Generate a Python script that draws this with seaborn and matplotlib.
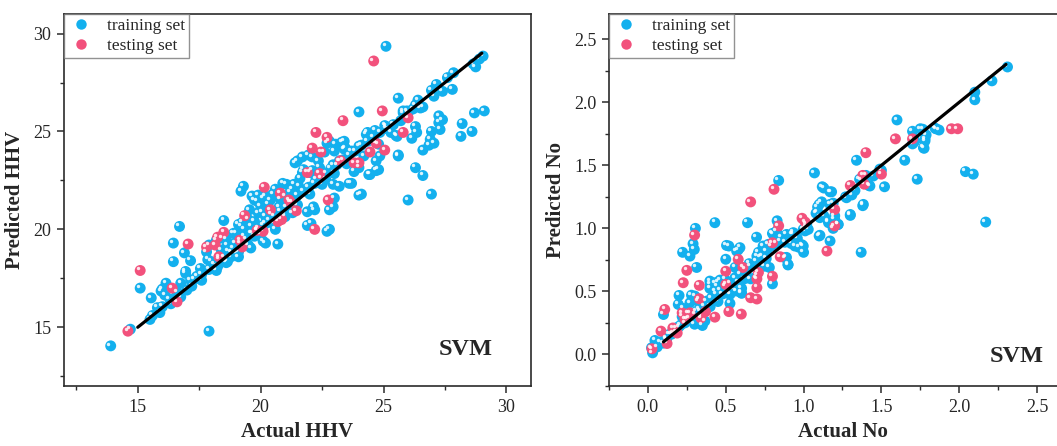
import matplotlib
matplotlib.use("Agg")
import matplotlib.pyplot as plt
import matplotlib.transforms as mtransforms
from matplotlib.lines import Line2D
from matplotlib.ticker import MultipleLocator
import seaborn as sns
import pandas as pd

# ---------------- data ----------------
hhv_train = [
    (13.9,14.05),(14.7,14.9),(17.9,14.8),(15.1,17.0),(15.55,16.5),(15.6,15.6),(15.8,16.0),(15.5,15.4),
    (16.0,16.05),(16.1,16.65),(16.0,16.95),(16.15,17.25),(15.95,16.85),(16.7,20.15),(16.45,19.3),
    (16.45,18.35),(16.9,18.8),(17.15,18.4),(16.95,17.85),(16.75,17.25),(16.75,16.55),(17.15,17.4),
    (17.4,17.6),(17.0,16.9),(16.35,16.2),(16.95,17.75),(17.55,18.0),(17.85,18.45),(17.8,18.85),
    (17.9,19.2),(18.2,19.45),(18.45,19.55),(18.5,20.45),(18.65,19.2),(18.8,18.85),(19.1,20.25),
    (19.3,22.2),(19.2,21.95),(19.9,21.75),(19.75,21.5),(20.1,21.6),(20.3,21.3),(19.35,20.0),
    (19.65,19.8),(19.9,20.05),(20.1,19.4),(19.1,18.6),(18.65,18.35),(18.25,18.1),(20.2,20.65),
    (19.5,20.5),(19.9,20.85),(21.5,23.5),(21.7,23.7),(21.95,23.8),(22.1,23.7),(21.75,23.05),
    (22.1,23.0),(22.4,23.15),(22.95,23.3),(23.2,23.5),(23.4,24.5),(23.05,24.35),(22.8,24.5),
    (23.45,24.15),(23.7,24.0),(24.0,24.25),(24.3,24.85),(24.65,25.05),(25.05,25.3),(25.25,25.1),
    (25.55,24.75),(25.6,23.8),(25.95,26.05),(25.8,25.95),(24.1,21.8),(23.7,22.35),(23.2,22.2),
    (22.95,22.3),(22.65,22.55),(22.25,22.55),(24.7,23.5),(24.45,22.8),(24.8,23.05),(24.85,23.75),
    (23.8,22.95),(24.0,23.15),(22.95,21.15),(22.15,21.15),(22.05,20.3),(22.8,20.0),(20.7,19.25),
    (20.2,19.3),(21.0,21.7),(20.6,22.05),(21.05,22.3),(21.3,22.05),(21.55,22.2),(19.65,21.7),
    (19.85,21.45),(20.2,21.7),(20.4,21.5),(20.05,20.9),(20.45,20.75),(20.75,21.15),(21.3,20.85),
    (21.0,20.65),(19.2,20.15),(19.0,19.8),(19.75,20.4),(19.6,20.15),(20.6,20.0),(20.2,20.3),
    (18.95,19.3),(19.1,18.85),(18.8,18.6),(19.75,19.65),(19.35,19.65),(19.6,19.05),(21.4,23.4),
    (21.7,22.9),(20.9,22.35),(21.35,22.3),(21.9,20.9),(21.9,20.2),(22.2,21.0),(22.7,19.9),
    (22.8,21.0),(23.0,21.6),(22.7,24.4),(23.3,24.45),(23.4,24.1),(24.0,26.0),(24.0,21.75),
    (23.6,22.35),(24.35,24.95),(24.4,22.8),(24.7,23.0),(25.1,29.35),(29.05,28.85),(28.9,28.7),
    (28.65,28.45),(28.75,28.3),(27.85,28.0),(27.6,27.75),(27.15,27.4),(26.95,27.1),(27.4,27.05),
    (27.8,27.15),(27.05,26.8),(25.6,26.7),(26.4,26.6),(26.6,26.25),(26.2,26.15),(25.8,26.05),
    (27.25,25.8),(27.4,25.6),(27.25,25.45),(27.3,25.1),(26.3,25.25),(26.35,24.95),(26.15,24.65),
    (25.5,24.8),(25.1,25.25),(25.6,23.75),(26.95,25.0),(26.9,24.6),(27.05,24.4),(26.85,24.3),
    (26.6,24.05),(28.2,25.4),(28.15,24.75),(28.6,25.0),(28.7,25.95),(29.1,26.05),(26.3,23.15),
    (26.6,22.75),(26.95,21.8),(26.0,21.5),(17.3,17.45),(17.6,17.7),(17.9,17.95),(18.1,18.2),
    (18.3,18.45),(18.5,18.6),(18.7,18.9),(18.9,19.05),(19.15,19.3),(19.4,19.5),(19.6,19.8),
    (19.85,19.95),(20.1,20.2),(20.35,20.45),(20.55,20.65),(20.8,20.95),(21.05,21.15),(21.3,21.4),
    (21.5,21.75),(21.75,21.95),(21.95,22.15),(22.2,22.35),(22.45,22.6),(22.65,22.85),(22.85,23.1),
    (23.1,23.3),(23.35,23.55),(23.6,23.8),(23.85,24.0),(24.1,24.3),(24.35,24.5),(24.6,24.7),
    (24.85,24.95),(25.1,25.15),(25.4,25.35),(25.7,25.55),(26.0,25.95),(26.3,26.35),(26.5,26.2),
    (18.0,18.35),(18.4,18.95),(18.6,19.5),(18.9,19.8),(19.25,20.35),(19.55,21.0),(20.0,21.2),
    (20.5,21.8),(20.8,21.55),(21.2,21.9),(21.6,22.6),(22.0,22.9),(22.35,23.5),(22.6,23.95),
    (23.0,24.0),(16.6,16.8),(16.3,16.45),(15.9,15.75),(17.2,17.1),(17.6,17.4),(18.2,17.9),
    (18.6,18.3),(19.0,18.8),(19.5,19.2),(20.0,19.75),(20.5,20.3),(21.0,20.85),(21.5,21.25),
    (22.0,21.8),(22.5,22.3),(23.0,22.85),(23.5,23.35),(24.2,23.75),(24.8,24.35),(25.3,24.95),
]
hhv_test = [
    (24.6,28.6),(23.35,25.55),(22.25,24.95),(22.7,24.7),(22.1,24.15),(22.45,23.95),(24.95,26.05),
    (24.7,24.4),(24.45,23.95),(25.05,24.05),(26.0,25.7),(25.8,24.95),(23.25,23.5),(23.8,23.4),
    (24.0,23.4),(21.9,22.9),(22.4,22.85),(20.15,22.15),(20.8,21.85),(21.15,21.5),(21.45,20.95),
    (22.75,21.5),(20.4,21.0),(20.85,20.5),(19.35,20.7),(19.15,19.45),(19.25,19.1),(19.85,19.95),
    (20.1,19.9),(22.2,20.0),(17.8,19.1),(18.15,19.2),(18.25,19.6),(18.5,19.85),(17.05,19.25),
    (18.3,18.6),(15.1,17.9),(16.4,17.0),(16.6,16.3),(14.6,14.8),(21.2,21.4),(20.7,20.4),
]
no_train = [
    (0.03,0.013),(0.023,0.053),(0.045,0.111),(0.1,0.09),(0.116,0.132),(0.137,0.159),(0.163,0.172),
    (0.184,0.212),(0.21,0.233),(0.238,0.251),(0.265,0.291),(0.302,0.317),(0.334,0.344),(0.36,0.384),
    (0.377,0.423),(0.409,0.45),(0.437,0.476),(0.463,0.508),(0.495,0.542),(0.527,0.569),(0.559,0.608),
    (0.591,0.635),(0.623,0.675),(0.655,0.701),(0.698,0.741),(0.737,0.78),(0.763,0.82),(0.795,0.86),
    (0.827,0.886),(0.859,0.926),(0.891,0.952),(0.934,0.966),(0.2,0.468),(0.1,0.317),(0.223,0.81),
    (0.27,0.78),(0.29,0.878),(0.305,1.0),(0.298,0.833),(0.313,0.69),(0.195,0.397),(0.227,0.365),
    (0.27,0.41),(0.302,0.463),(0.323,0.423),(0.345,0.304),(0.366,0.265),(0.35,0.23),(0.398,0.582),
    (0.43,0.569),(0.445,0.542),(0.398,0.524),(0.43,0.503),(0.463,0.59),(0.495,0.595),(0.505,0.865),
    (0.5,0.755),(0.43,1.045),(0.527,0.405),(0.602,0.485),(0.527,0.476),(0.57,0.503),(0.602,0.524),
    (0.698,0.608),(0.677,0.648),(0.64,1.045),(0.591,0.847),(0.57,0.82),(0.8,0.56),(0.806,0.952),
    (0.827,0.979),(0.74,0.86),(0.773,0.873),(0.698,0.93),(0.65,0.72),(0.71,0.81),(0.72,0.77),
    (0.8,0.96),(0.84,1.38),(0.83,1.06),(0.78,0.69),(0.9,0.71),(0.89,0.77),(0.88,0.89),(0.93,0.95),
    (0.99,0.87),(1.0,0.81),(0.97,0.85),(1.01,0.98),(1.02,1.01),(1.07,1.44),(1.09,1.13),(1.12,1.33),
    (1.1,1.19),(1.1,0.94),(1.17,0.9),(1.18,1.29),(1.16,1.06),(1.19,1.2),(1.2,1.1),(1.19,1.0),
    (1.22,1.03),(1.27,1.25),(1.3,1.11),(1.32,1.3),(1.34,1.54),(1.37,0.81),(1.38,1.18),(1.37,1.38),
    (1.4,1.42),(1.42,1.34),(1.5,1.46),(1.52,1.33),(1.6,1.86),(1.65,1.54),(1.7,1.77),(1.7,1.67),
    (1.73,1.39),(1.75,1.79),(1.77,1.64),(1.78,1.71),(1.85,1.79),(1.87,1.78),(2.04,1.45),(2.09,1.43),
    (2.1,2.08),(2.1,2.02),(2.17,1.05),(2.21,2.17),(2.31,2.28),(1.13,1.32),(1.17,1.29),(1.116,1.21),
    (1.09,1.17),(1.08,1.12),(1.105,1.085),(1.13,1.1),(1.17,1.19),(1.276,1.243),(1.31,1.265),
    (1.33,1.3),(1.36,1.39),(1.426,1.336),(1.448,1.415),(1.49,1.47),(1.384,1.19),(1.3,1.103),
    (1.2,1.07),(1.223,1.032),(1.16,1.045),(1.105,0.945),(0.998,0.86),(0.944,0.86),(0.934,0.952),
    (0.998,0.992),(1.03,0.992),(1.02,1.032),(0.9,0.714),(0.88,0.767),(0.848,0.9),(1.715,1.693),
    (1.78,1.693),(1.766,1.786),(1.845,1.794),(1.787,1.741),(1.774,1.635),(1.706,1.68),(0.52,0.86),
    (0.6,0.49),(0.58,0.83),(0.56,0.69),(0.45,0.57),(0.4,0.56),(0.31,0.34),(0.25,0.28),(0.18,0.18),
    (0.15,0.16),(0.2,0.22),(0.3,0.24),(0.33,0.36),(0.4,0.38),(0.45,0.42),(0.55,0.52),(0.62,0.6),
    (0.66,0.6),(0.75,0.7),(0.7,0.63),(0.06,0.06),(0.08,0.1),(0.12,0.12),(0.22,0.3),(0.26,0.33),
    (0.28,0.47),(0.48,0.48),(0.58,0.57),(0.7,0.78),(0.76,0.76),(0.92,0.88),(0.96,0.92),
]
no_test = [
    (0.026,0.045),(0.084,0.185),(0.108,0.357),(0.123,0.087),(0.16,0.21),(0.188,0.17),(0.22,0.33),
    (0.227,0.569),(0.238,0.278),(0.25,0.667),(0.27,0.33),(0.3,0.947),(0.33,0.548),(0.33,0.442),
    (0.34,0.29),(0.37,0.34),(0.43,0.296),(0.5,0.66),(0.5,0.556),(0.52,0.34),(0.58,0.754),(0.6,0.32),
    (0.61,0.69),(0.66,1.21),(0.66,0.45),(0.7,0.44),(0.7,0.6),(0.7,0.53),(0.71,0.65),(0.8,0.62),
    (0.8,0.886),(0.81,1.31),(0.84,1.02),(0.85,0.775),(0.99,1.08),(1.01,1.05),(1.15,0.82),(1.2,1.15),
    (1.2,1.02),(1.3,1.34),(1.38,1.42),(1.39,1.35),(1.4,1.6),(1.5,1.43),(1.59,1.71),(1.7,1.71),
    (1.95,1.79),(1.99,1.79),
]
hhv_line = [15.0, 29.0]
no_line = [0.1, 2.3]

labels_set = ["training set", "testing set"]
c_train = "#13B0EE"
c_test = "#F2517C"

# ---------------- style ----------------
sns.set_theme(style="white")
plt.rcParams["font.family"] = ["Liberation Serif", "DejaVu Serif"]
plt.rcParams["axes.edgecolor"] = "#2b2b2b"
plt.rcParams["axes.linewidth"] = 1.2

fig = plt.figure(figsize=(10.57, 4.46), dpi=100)
W, H = 1057.0, 446.0
ax1 = fig.add_axes([64 / W, (H - 386) / H, (531 - 64) / W, (386 - 14) / H])
ax2 = fig.add_axes([609 / W, (H - 386) / H, (1076 - 609) / W, (386 - 14) / H])


def df_of(train, test):
    rows = [(x, y, labels_set[0]) for x, y in train] + [(x, y, labels_set[1]) for x, y in test]
    return pd.DataFrame(rows, columns=["actual", "pred", "set"])


def draw(ax, train, test, line, xlim, ylim, major, xlabel, ylabel, svm_xy):
    df = df_of(train, test)
    sns.scatterplot(data=df, x="actual", y="pred", hue="set",
                    palette={labels_set[0]: c_train, labels_set[1]: c_test},
                    s=62, linewidth=0, alpha=1, ax=ax, legend=False, zorder=3)
    # glossy highlight
    off = mtransforms.ScaledTranslation(-1.6 / 72, 1.6 / 72, fig.dpi_scale_trans)
    for pts in (train, test):
        xs = [p[0] for p in pts]
        ys = [p[1] for p in pts]
        ax.scatter(xs, ys, s=6, color="white", alpha=0.85, linewidth=0,
                   transform=ax.transData + off, zorder=3)
    sns.lineplot(x=line, y=line, color="black", linewidth=2.3, ax=ax, zorder=4)
    ax.set_xlim(*xlim)
    ax.set_ylim(*ylim)
    ax.xaxis.set_major_locator(MultipleLocator(major))
    ax.yaxis.set_major_locator(MultipleLocator(major))
    ax.xaxis.set_minor_locator(MultipleLocator(major / 2))
    ax.yaxis.set_minor_locator(MultipleLocator(major / 2))
    ax.tick_params(which="major", direction="out", length=5, width=1.1,
                   labelsize=13, color="#2b2b2b", bottom=True, left=True, top=False, right=False, pad=4)
    ax.tick_params(which="minor", direction="out", length=3, width=1.0,
                   color="#2b2b2b", bottom=True, left=True, top=False, right=False)
    ax.set_xlabel(xlabel, fontsize=15, fontweight="bold", labelpad=5)
    ax.set_ylabel(ylabel, fontsize=15, fontweight="bold", labelpad=6)
    ax.text(svm_xy[0], svm_xy[1], "SVM", transform=ax.transAxes, fontsize=17.5,
            fontweight="bold", ha="center", va="baseline")
    handles = [Line2D([], [], marker="o", linestyle="", markersize=7.5,
                      markerfacecolor=c, markeredgewidth=0) for c in (c_train, c_test)]
    leg = ax.legend(handles, labels_set, loc="upper left", borderaxespad=0,
                    fontsize=12.5, frameon=True, fancybox=False, handletextpad=0.7,
                    borderpad=0.25, labelspacing=0.2, handlelength=1.5)
    leg.get_frame().set_edgecolor("#777777")
    leg.get_frame().set_linewidth(1.0)
    leg.set_zorder(6)


draw(ax1, hhv_train, hhv_test, hhv_line, (12, 31), (12, 31), 5,
     "Actual HHV", "Predicted HHV", (0.86, 0.083))
draw(ax2, no_train, no_test, no_line, (-0.25, 2.75), (-0.25, 2.7), 0.5,
     "Actual No", "Predicted No", (0.872, 0.065))

fig.savefig("out.png", dpi=100)
